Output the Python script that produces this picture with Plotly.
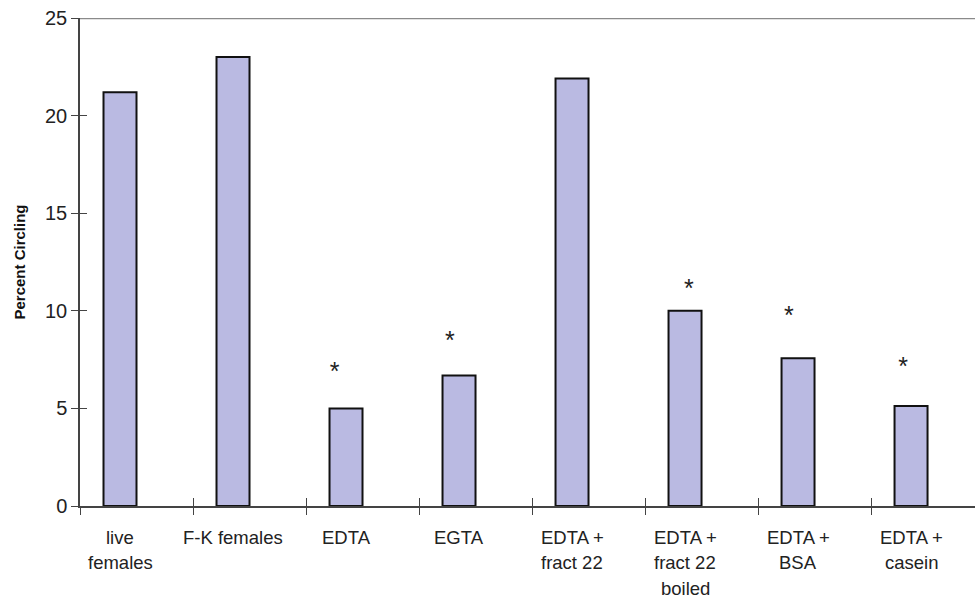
import plotly.graph_objects as go

categories = ["live\nfemales", "F-K females", "EDTA", "EGTA", "EDTA +\nfract 22",
              "EDTA +\nfract 22\nboiled", "EDTA +\nBSA", "EDTA +\ncasein"]
values = [21.2, 23.0, 5.0, 6.68, 21.9, 10.0, 7.57, 5.12]
star_x = [1.90, 2.92, 5.035, 5.92, 6.93]
star_y = [6.76, 8.35, 11.03, 9.63, 7.02]
y_ticks = [0, 5, 10, 15, 20, 25]

FONT = "Liberation Sans, Arial, sans-serif"
xs = list(range(len(categories)))
half_gap = 0.354
x_range = [-half_gap, 7.566]
boundaries = [i - half_gap for i in range(len(categories) + 1)]

fig = go.Figure()
fig.add_trace(go.Bar(
    x=xs, y=values, width=0.292,
    marker=dict(color="#babae2", line=dict(color="#111111", width=2)),
    showlegend=False, hoverinfo="skip",
))
fig.add_trace(go.Scatter(
    x=star_x, y=star_y, mode="text", text=["*"] * len(star_x),
    textfont=dict(family=FONT, size=25, color="#222222"),
    showlegend=False, hoverinfo="skip",
))
fig.add_trace(go.Scatter(x=[None], y=[None], xaxis="x2", yaxis="y2",
                         showlegend=False, hoverinfo="skip"))

for i, cat in enumerate(categories):
    for j, line in enumerate(cat.split("\n")):
        fig.add_annotation(
            x=i, xref="x", y=0, yref="y", yanchor="middle",
            text=line, showarrow=False, yshift=-31 - 25.5 * j,
            font=dict(family=FONT, size=18.5, color="#222222"),
        )

fig.add_shape(type="line", xref="paper", yref="y", x0=0, x1=1, y0=25, y1=25,
              line=dict(color="#8a8a8a", width=2.5), layer="below")

axis_common = dict(showgrid=False, zeroline=False)
fig.update_layout(
    width=975, height=599,
    margin=dict(l=80, r=0, t=18, b=93),
    plot_bgcolor="white", paper_bgcolor="white",
    xaxis=dict(range=x_range, tickmode="array", tickvals=boundaries,
               showticklabels=False, ticks="outside", ticklen=7,
               tickcolor="#444444", tickwidth=1.2,
               showline=True, linecolor="#444444", linewidth=1.5, **axis_common),
    xaxis2=dict(range=x_range, overlaying="x", tickmode="array", tickvals=boundaries,
                showticklabels=False, ticks="inside", ticklen=8,
                tickcolor="#444444", tickwidth=1.2, showline=False,
                matches="x", **axis_common),
    yaxis=dict(range=[0, 25], tickmode="array", tickvals=y_ticks,
               ticks="outside", ticklen=7, tickcolor="#444444", tickwidth=1.2,
               showline=True, linecolor="#444444", linewidth=1.5,
               tickfont=dict(family=FONT, size=20, color="#222222"),
               title=dict(text="<b>Percent Circling</b>", standoff=16,
                          font=dict(family=FONT, size=15, color="#111111")),
               **axis_common),
    yaxis2=dict(range=[0, 25], overlaying="y", tickmode="array", tickvals=y_ticks,
                showticklabels=False, ticks="inside", ticklen=7,
                tickcolor="#444444", tickwidth=1.2, showline=False,
                matches="y", **axis_common),
)

fig.write_html("out.html", config={"displayModeBar": False},
               post_script="document.body.style.margin='0';document.body.style.overflow='hidden';")
